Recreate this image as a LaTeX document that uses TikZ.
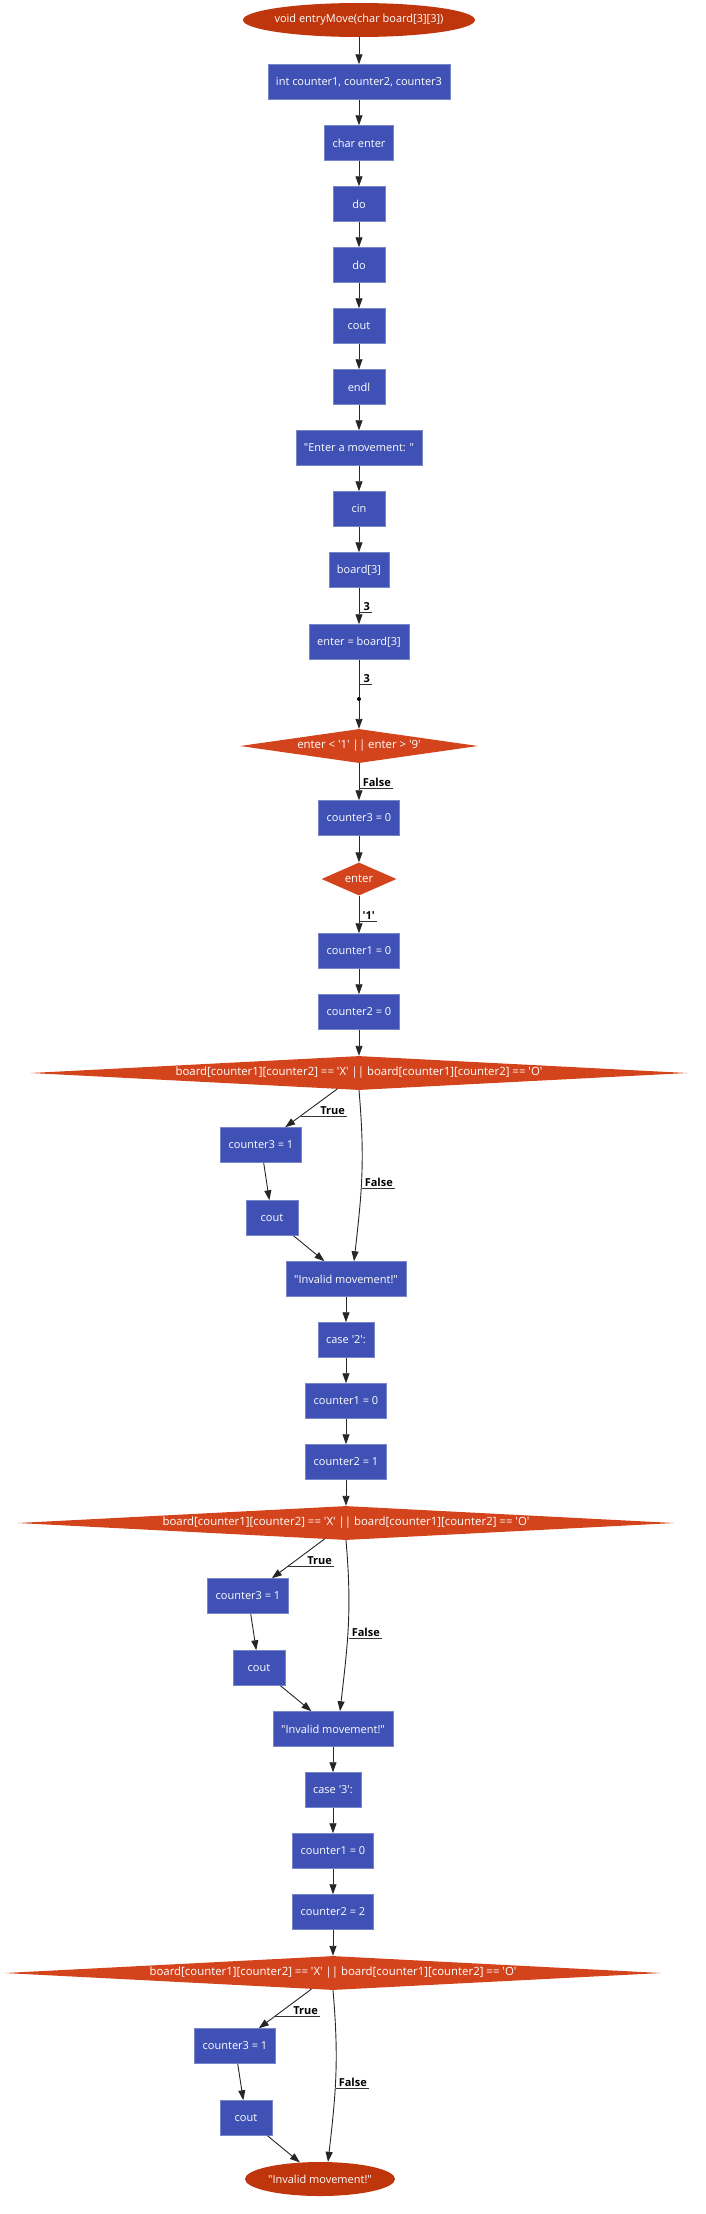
\documentclass[tikz,border=0pt]{standalone}
\usepackage{fontspec}
\setmainfont{Open Sans}
\usetikzlibrary{shapes.geometric,arrows.meta}
\definecolor{stmtblue}{RGB}{63,81,181}
\definecolor{condorange}{RGB}{212,68,28}
\definecolor{termred}{RGB}{191,54,12}
\newcommand{\sq}[1]{\textquotesingle#1\textquotesingle}
\newcommand{\dq}[1]{\textquotedbl#1\textquotedbl}

\begin{document}
\begin{tikzpicture}[x=1pt, y=-1pt,
    box/.style={rectangle, draw=stmtblue!70!white, line width=0.5pt, fill=stmtblue, text=white, minimum width=52pt, minimum height=35pt, inner xsep=8pt, font=\fontsize{11}{13}\selectfont},
    cond/.style={diamond, fill=condorange, text=white, inner sep=0pt, font=\fontsize{11.4}{13}\selectfont},
    term/.style={ellipse, fill=termred, text=white, inner sep=0pt, minimum height=34pt, font=\fontsize{11}{13}\selectfont},
    flow/.style={-{Triangle[length=10pt,width=7pt]}, line width=0.9pt, draw=black!85},
    lab/.style={anchor=south east, inner xsep=2pt, inner ysep=1pt, font=\bfseries\fontsize{11}{13}\selectfont},
    uline/.style={line width=0.6pt, draw=black!80}]

    \useasboundingbox (0,0) rectangle (706,2214);

    % main column
    \node[term, minimum width=232pt, inner xsep=-3pt] (entry) at (359,20) {void entryMove(char board[3][3])};
    \node[box] (decl) at (359,82) {int counter1, counter2, counter3};
    \node[box] (chr) at (359,143) {char enter};
    \node[box] (doa) at (359,204) {do};
    \node[box] (dob) at (359,265) {do};
    \node[box] (outa) at (359,326) {cout};
    \node[box] (endl) at (359,387) {endl};
    \node[box] (prompt) at (359,448) {\dq{Enter a movement: }};
    \node[box] (cin) at (359,509) {cin};
    \node[box] (brd) at (359,570) {board[3]};
    \node[box] (asg) at (359,642) {enter = board[3]};
    \node[circle, fill=black, inner sep=0pt, minimum size=4pt] (pt) at (359,699) {};
    \node[cond, minimum width=238pt, minimum height=34pt, aspect=7] (range) at (359,746) {enter < \sq{1} || enter > \sq{9}};
    \node[box] (c3z) at (359,818) {counter3 = 0};
    \node[cond, minimum width=75pt, minimum height=33pt, aspect=2.3] (sel) at (359,879) {enter};

    \draw[flow] (entry) -- (decl);
    \draw[flow] (decl) -- (chr);
    \draw[flow] (chr) -- (doa);
    \draw[flow] (doa) -- (dob);
    \draw[flow] (dob) -- (outa);
    \draw[flow] (outa) -- (endl);
    \draw[flow] (endl) -- (prompt);
    \draw[flow] (prompt) -- (cin);
    \draw[flow] (cin) -- (brd);
    \draw[flow] (brd) -- (asg);
    \draw[flow, -] (asg) -- (pt);
    \draw[flow] (pt) -- (range);
    \draw[flow] (range) -- (c3z);
    \draw[flow] (c3z) -- (sel);

    \node[lab] (nthree) at (372,612) {3};
    \draw[uline] (nthree.south east) -- (nthree.south east -| brd.south);
    \node[lab] (nthreeb) at (372,684) {3};
    \draw[uline] (nthreeb.south east) -- (nthreeb.south east -| asg.south);
    \node[lab] (nfz) at (393,788) {False};
    \draw[uline] (nfz.south east) -- (nfz.south east -| range.south);
    \node[lab] (none) at (377,921) {\sq{1}};
    \draw[uline] (none.south east) -- (none.south east -| sel.south);

    % case '1'
    \node[box] (c1a) at (359,951) {counter1 = 0};
    \node[box] (c2a) at (359,1012) {counter2 = 0};
    \node[cond, minimum width=657pt, minimum height=34pt, aspect=20] (chka) at (359,1073) {board[counter1][counter2] == \sq{X} || board[counter1][counter2] == \sq{O}};
    \node[box] (c3a) at (261,1145) {counter3 = 1};
    \node[box] (outb) at (272,1218) {cout};
    \node[box] (inva) at (346,1279) {\dq{Invalid movement!}};

    \draw[flow] (sel) -- (c1a);
    \draw[flow] (c1a) -- (c2a);
    \draw[flow] (c2a) -- (chka);
    \draw[flow] (chka) -- (c3a);
    \draw[flow] (chka.south) .. controls +(6,70) and +(8,-70) .. ([xshift=8pt]inva.north);
    \draw[flow] (c3a) -- (outb);
    \draw[flow] (outb) -- (inva);
    \node[lab] (nta) at (347,1116) {True};
    \draw[uline] (nta.south east) -- ++(-46,0);
    \node[lab] (nfa) at (395,1188) {False};
    \draw[uline] (nfa.south east) -- ++(-33,0);

    % case '2'
    \node[box] (casb) at (346,1340) {case \sq{2}:};
    \node[box] (c1b) at (346,1401) {counter1 = 0};
    \node[box] (c2b) at (346,1462) {counter2 = 1};
    \node[cond, minimum width=657pt, minimum height=34pt, aspect=20] (chkb) at (346,1523) {board[counter1][counter2] == \sq{X} || board[counter1][counter2] == \sq{O}};
    \node[box] (c3b) at (248,1596) {counter3 = 1};
    \node[box] (outc) at (259,1668) {cout};
    \node[box] (invb) at (333,1729) {\dq{Invalid movement!}};

    \draw[flow] (inva) -- (casb);
    \draw[flow] (casb) -- (c1b);
    \draw[flow] (c1b) -- (c2b);
    \draw[flow] (c2b) -- (chkb);
    \draw[flow] (chkb) -- (c3b);
    \draw[flow] (chkb.south) .. controls +(6,70) and +(8,-70) .. ([xshift=7pt]invb.north);
    \draw[flow] (c3b) -- (outc);
    \draw[flow] (outc) -- (invb);
    \node[lab] (ntb) at (334,1566) {True};
    \draw[uline] (ntb.south east) -- ++(-46,0);
    \node[lab] (nfb) at (382,1638) {False};
    \draw[uline] (nfb.south east) -- ++(-33,0);

    % case '3'
    \node[box] (casc) at (333,1790) {case \sq{3}:};
    \node[box] (c1c) at (333,1851) {counter1 = 0};
    \node[box] (c2c) at (333,1912) {counter2 = 2};
    \node[cond, minimum width=657pt, minimum height=34pt, aspect=20] (chkc) at (333,1973) {board[counter1][counter2] == \sq{X} || board[counter1][counter2] == \sq{O}};
    \node[box] (c3c) at (235,2046) {counter3 = 1};
    \node[box] (outd) at (246,2118) {cout};
    \node[term, minimum width=150pt] (fin) at (320,2179) {\dq{Invalid movement!}};

    \draw[flow] (invb) -- (casc);
    \draw[flow] (casc) -- (c1c);
    \draw[flow] (c1c) -- (c2c);
    \draw[flow] (c2c) -- (chkc);
    \draw[flow] (chkc) -- (c3c);
    \draw[flow] (chkc.south) .. controls +(6,70) and +(8,-70) .. ([xshift=8pt]fin.north);
    \draw[flow] (c3c) -- (outd);
    \draw[flow] (outd) -- (fin);
    \node[lab] (ntc) at (320,2016) {True};
    \draw[uline] (ntc.south east) -- ++(-46,0);
    \node[lab] (nfc) at (369,2088) {False};
    \draw[uline] (nfc.south east) -- ++(-33,0);
\end{tikzpicture}
\end{document}
